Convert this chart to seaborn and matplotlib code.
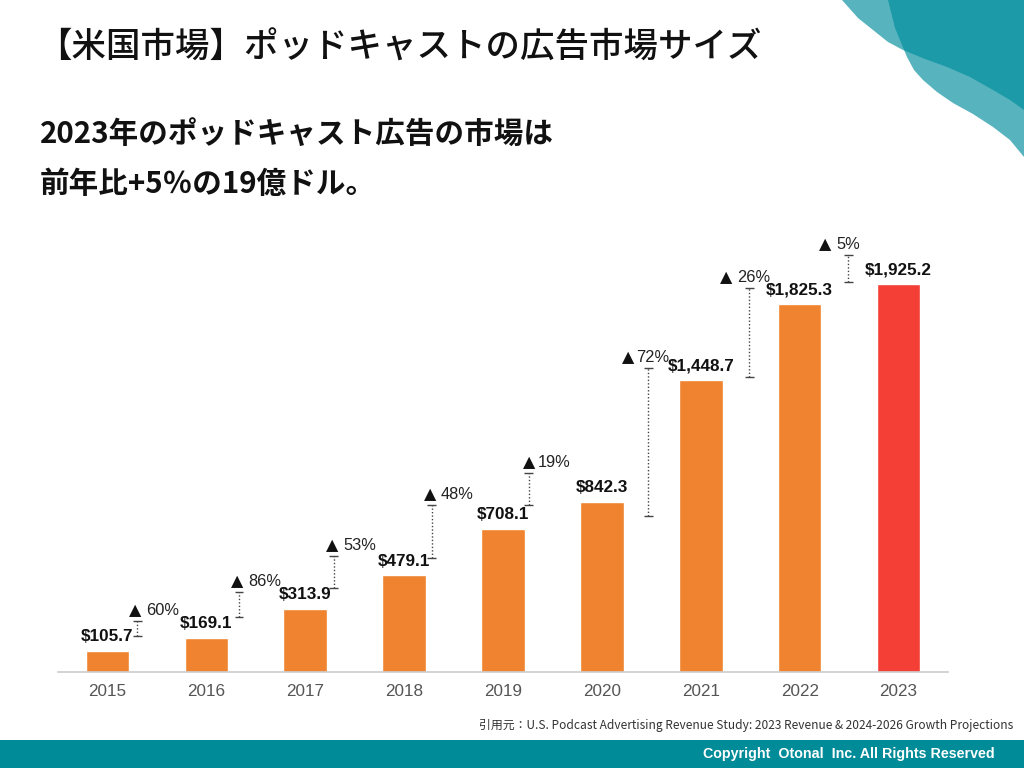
import numpy as np
import pandas as pd
import matplotlib
matplotlib.use('Agg')
import matplotlib.pyplot as plt
from matplotlib.patches import Polygon, Rectangle
import seaborn as sns

# ---------- Data ----------
years = ['2015', '2016', '2017', '2018', '2019', '2020', '2021', '2022', '2023']
revenue = [105.7, 169.1, 313.9, 479.1, 708.1, 842.3, 1448.7, 1825.3, 1925.2]
value_labels = ['$105.7', '$169.1', '$313.9', '$479.1', '$708.1', '$842.3',
                '$1,448.7', '$1,825.3', '$1,925.2']
growth_labels = ['60%', '86%', '53%', '48%', '19%', '72%', '26%', '5%']
# growth brackets (in $M)
bracket_x = [0.30, 1.33, 2.29, 3.28, 4.26, 5.47, 6.49, 7.49]
bracket_lo = [179, 273, 417, 566, 829, 774, 1464, 1935]
bracket_hi = [253, 397, 576, 829, 988, 1509, 1906, 2069]

bar_colors = ['#F0832F'] * 8 + ['#F43F36']

df = pd.DataFrame({'year': years, 'revenue': revenue})

# ---------- Figure ----------
sns.set_theme(style='white')
plt.rcParams['font.family'] = ['Liberation Sans', 'DejaVu Sans']
JP = ['Noto Sans CJK JP', 'DejaVu Sans']

fig = plt.figure(figsize=(10.24, 7.68), dpi=100)
ax = fig.add_axes([58 / 1024, 96 / 768, 890 / 1024, 0.6035])

sns.barplot(data=df, x='year', y='revenue', hue='year', palette=bar_colors,
            legend=False, width=0.44, saturation=1, ax=ax)

ax.set_xlim(-0.5, 8.5)
ax.set_ylim(0, 2300)
ax.set_xlabel('')
ax.set_ylabel('')
ax.set_yticks([])
for s in ['top', 'right', 'left']:
    ax.spines[s].set_visible(False)
ax.spines['bottom'].set_color('#cccccc')
ax.spines['bottom'].set_linewidth(1.2)
ax.tick_params(axis='x', length=0, pad=9, labelsize=12.3, labelcolor='#555555')

# value labels
for i, (v, lab) in enumerate(zip(revenue, value_labels)):
    ax.annotate(lab, (i, v), xytext=(0, 5), textcoords='offset points',
                ha='center', va='bottom', fontsize=12.3, fontweight='bold',
                color='#111111')

# growth brackets
for i in range(len(bracket_x)):
    x = bracket_x[i]
    ax.vlines(x, bracket_lo[i], bracket_hi[i], colors='#444444',
              linestyles=(0, (1, 1.5)), linewidth=1)
    ax.hlines([bracket_lo[i], bracket_hi[i]], x - 0.045, x + 0.045,
              colors='#444444', linewidth=1)
    dx = 6.5 if i < 5 else -8.5   # points, text start relative to bracket
    gap = 2 if i in (4, 5) else 3.5
    ax.annotate(growth_labels[i], (x, bracket_hi[i]), xytext=(dx, 7.5),
                textcoords='offset points', ha='left', va='center',
                fontsize=11.8, color='#222222')
    ax.annotate('▲', (x, bracket_hi[i]), xytext=(dx - gap, 7.5),
                textcoords='offset points', ha='right', va='center',
                fontsize=11.5, color='#111111', family='DejaVu Sans')

# ---------- Titles ----------
fig.text(37 / 1024, 1 - 48 / 768, '【米国市場】ポッドキャストの広告市場サイズ',
         family=JP, fontsize=24.8, fontweight='medium', va='center',
         ha='left', color='#111111')
fig.text(40 / 1024, 1 - 135 / 768, '2023年のポッドキャスト広告の市場は',
         family=JP, fontsize=21.3, fontweight='bold', va='center',
         ha='left', color='#111111')
fig.text(40 / 1024, 1 - 184 / 768, '前年比+5％の19億ドル。',
         family=JP, fontsize=21.3, fontweight='bold', va='center',
         ha='left', color='#111111')

# citation
fig.text(1013 / 1024, 1 - 726 / 768,
         '引用元：U.S. Podcast Advertising Revenue Study: 2023 Revenue & 2024-2026 Growth Projections',
         family=JP, fontsize=8.6, va='center', ha='right', color='#333333')

# footer band
fig.patches.append(Rectangle((0, 0), 1, 28 / 768, transform=fig.transFigure,
                             facecolor='#008B98', edgecolor='none', zorder=0))
fig.text(995 / 1024, 1 - 754 / 768, 'Copyright  Otonal  Inc. All Rights Reserved',
         fontsize=10.3, fontweight='bold', color='white', va='center', ha='right')

# top-right decoration (two translucent teal shapes)
def px(points):
    return [(x / 1024, 1 - y / 768) for x, y in points]

shape_a = px([(842, 0), (858, 18), (873, 30), (888, 42), (903, 50), (925, 59),
              (947, 67), (970, 77), (993, 90), (1010, 100), (1024, 110),
              (1024, 0)])
shape_b = px([(888, 0), (895, 28), (907, 57), (914, 70), (923, 80), (937, 92),
              (953, 103), (973, 114), (993, 127), (1010, 140), (1024, 157),
              (1024, 0)])
for shp in (shape_a, shape_b):
    fig.patches.append(Polygon(shp, closed=True, transform=fig.transFigure,
                               facecolor='#008D9D', alpha=0.66,
                               edgecolor='none', zorder=0))

plt.savefig('out.png', dpi=100)
